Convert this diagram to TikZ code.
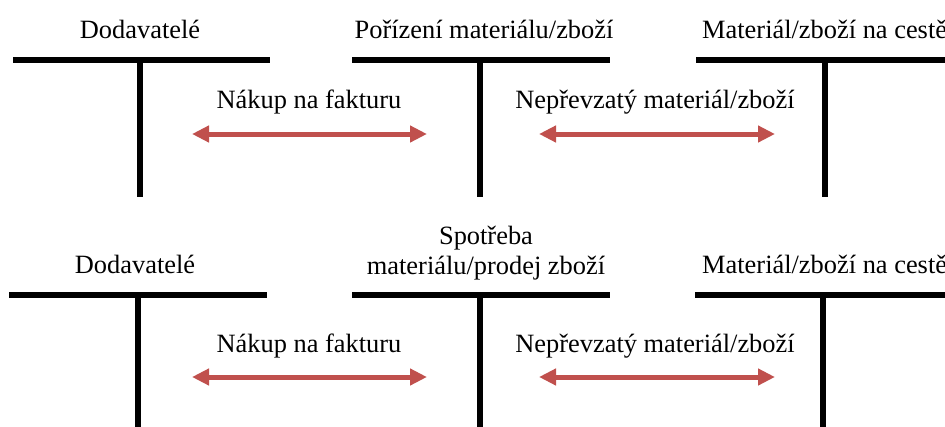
\documentclass[tikz,border=0pt]{standalone}
\usepackage{fontspec}
\setmainfont{Liberation Serif}
\usetikzlibrary{arrows.meta}
\definecolor{flowred}{RGB}{192,80,77}
\begin{document}
\begin{tikzpicture}[x=1pt,y=-1pt,
  acct/.style={line width=6pt, black},
  label/.style={anchor=base, inner sep=0pt, font=\fontsize{26.4}{30}\selectfont},
  flow/.style={flowred, line width=5pt,
    {Triangle[length=17pt,width=16pt]}-{Triangle[length=17pt,width=16pt]}}]
\useasboundingbox (0,0) rectangle (945,426);
\clip (0,0) rectangle (945,426);

% ---- upper row of T-accounts ----
\coordinate (a1l) at (13,60);  \coordinate (a1r) at (270,60);
\coordinate (a1t) at (140,60); \coordinate (a1b) at (140,197);
\coordinate (a2l) at (352,60); \coordinate (a2r) at (610,60);
\coordinate (a2t) at (480,60); \coordinate (a2b) at (480,197);
\coordinate (a3l) at (696,60); \coordinate (a3r) at (950,60);
\coordinate (a3t) at (825,60); \coordinate (a3b) at (825,197);
\draw[acct] (a1l) -- (a1r) (a1t) -- (a1b);
\draw[acct] (a2l) -- (a2r) (a2t) -- (a2b);
\draw[acct] (a3l) -- (a3r) (a3t) -- (a3b);

\node[label] (t1) at (140,38) {Dodavatelé};
\node[label] (t2) at (484,38) {Pořízení materiálu/zboží};
\node[label,anchor=base west] (t3) at (702,38) {Materiál/zboží na cestě};

\coordinate (f1a) at (192,134); \coordinate (f1b) at (427,134);
\coordinate (f2a) at (539,134); \coordinate (f2b) at (775,134);
\draw[flow] (f1a) -- (f1b);
\draw[flow] (f2a) -- (f2b);
\node[label] (n1) at (309,108) {Nákup na fakturu};
\node[label] (n2) at (655,108) {Nepřevzatý materiál/zboží};

% ---- lower row of T-accounts ----
\coordinate (b1l) at (9,295);   \coordinate (b1r) at (267,295);
\coordinate (b1t) at (138,295); \coordinate (b1b) at (138,430);
\coordinate (b2l) at (352,295); \coordinate (b2r) at (610,295);
\coordinate (b2t) at (480,295); \coordinate (b2b) at (480,430);
\coordinate (b3l) at (695,295); \coordinate (b3r) at (950,295);
\coordinate (b3t) at (823,295); \coordinate (b3b) at (823,430);
\draw[acct] (b1l) -- (b1r) (b1t) -- (b1b);
\draw[acct] (b2l) -- (b2r) (b2t) -- (b2b);
\draw[acct] (b3l) -- (b3r) (b3t) -- (b3b);

\node[label] (s1) at (135,273) {Dodavatelé};
\node[label,align=center] (s2) at (486,274) {Spotřeba\\materiálu/prodej zboží};
\node[label,anchor=base west] (s3) at (702,273) {Materiál/zboží na cestě};

\coordinate (g1a) at (192,377); \coordinate (g1b) at (427,377);
\coordinate (g2a) at (539,377); \coordinate (g2b) at (775,377);
\draw[flow] (g1a) -- (g1b);
\draw[flow] (g2a) -- (g2b);
\node[label] (m1) at (309,352) {Nákup na fakturu};
\node[label] (m2) at (655,352) {Nepřevzatý materiál/zboží};
\end{tikzpicture}
\end{document}
